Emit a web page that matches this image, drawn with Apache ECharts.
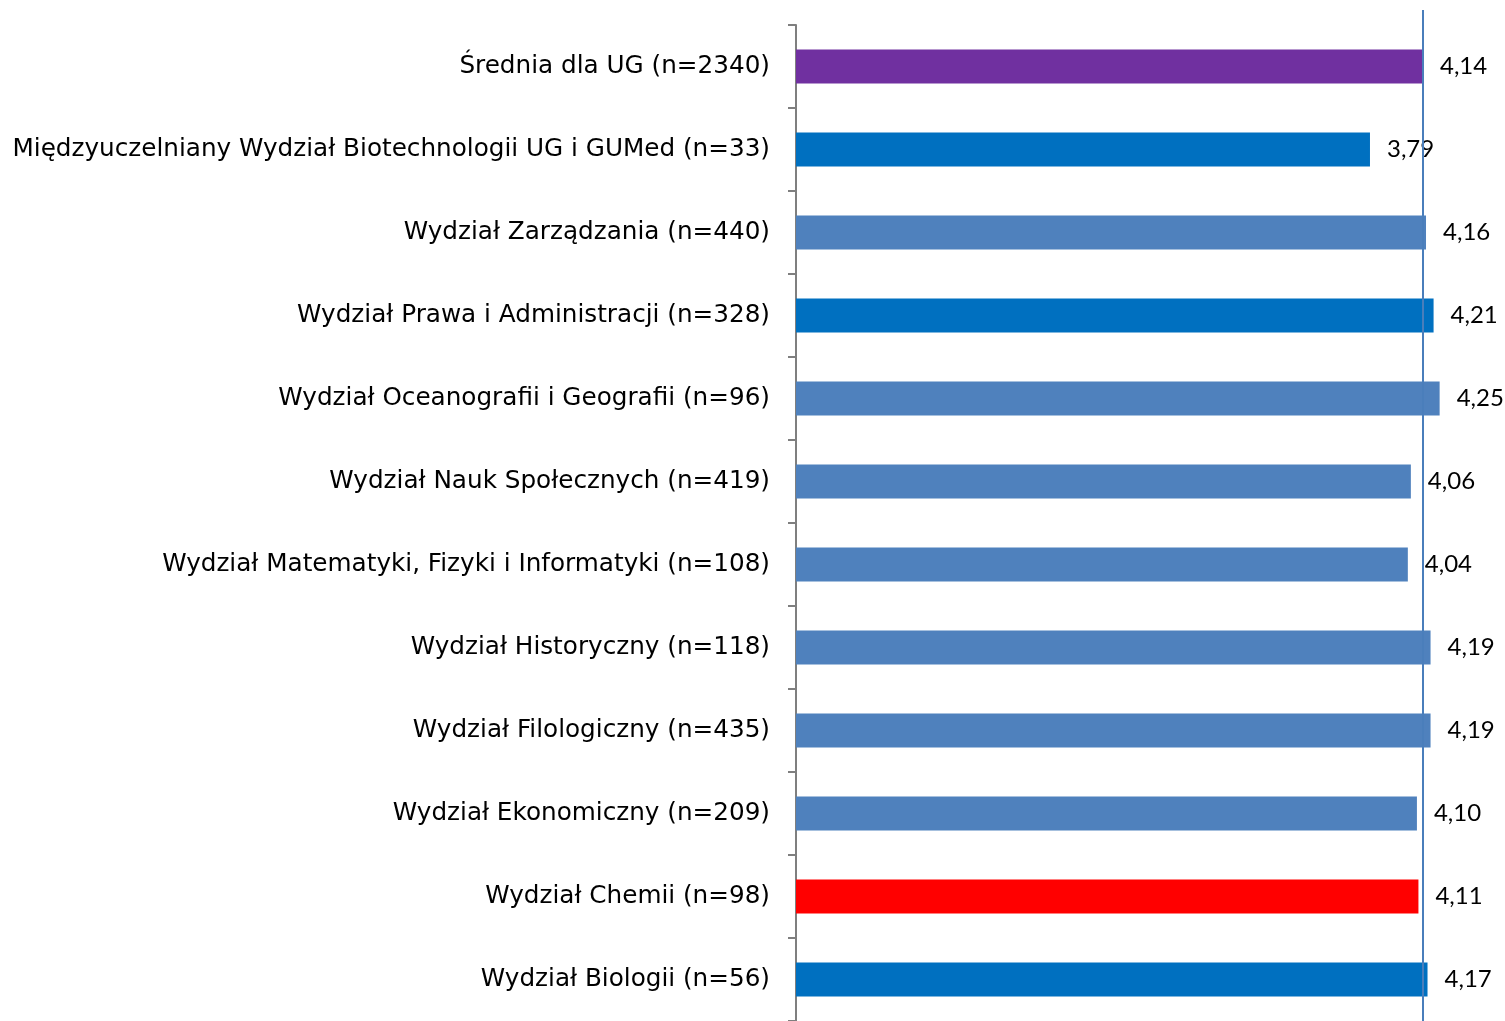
<!DOCTYPE html>
<html>
<head>
<meta charset="utf-8">
<script src="https://cdn.jsdelivr.net/npm/echarts@6/dist/echarts.min.js"></script>
<style>
html, body { margin: 0; padding: 0; background: #fff; }
#main { width: 1505px; height: 1021px; }
</style>
</head>
<body>
<div id="main"></div>
<script>
// kategorie (od góry)
var categories = [
    'Średnia dla UG (n=2340)',
    'Międzyuczelniany Wydział Biotechnologii UG i GUMed (n=33)',
    'Wydział Zarządzania (n=440)',
    'Wydział Prawa i Administracji (n=328)',
    'Wydział Oceanografii i Geografii (n=96)',
    'Wydział Nauk Społecznych (n=419)',
    'Wydział Matematyki, Fizyki i Informatyki (n=108)',
    'Wydział Historyczny (n=118)',
    'Wydział Filologiczny (n=435)',
    'Wydział Ekonomiczny (n=209)',
    'Wydział Chemii (n=98)',
    'Wydział Biologii (n=56)'
];
var values = [4.14, 3.79, 4.16, 4.21, 4.25, 4.06, 4.04, 4.19, 4.19, 4.10, 4.11, 4.17];
var barColors = ['#7030A0', '#0070C0', '#4F81BD', '#0070C0', '#4F81BD', '#4F81BD',
    '#4F81BD', '#4F81BD', '#4F81BD', '#4F81BD', '#FF0000', '#0070C0'];
var average = 4.14;

var chart = echarts.init(document.getElementById('main'));

var option = {
    animation: false,
    grid: [
        { left: 796, right: 27.5, top: 25, bottom: -4 },
        // osobna siatka tylko na linię średniej (wystaje ponad wykres)
        { left: 796, right: 27.5, top: 10, bottom: -4 }
    ],
    xAxis: [
        { gridIndex: 0, type: 'value', min: 0, max: 4.5, show: false },
        { gridIndex: 1, type: 'value', min: 0, max: 4.5, show: false }
    ],
    yAxis: [
        {
            gridIndex: 0,
            type: 'category',
            inverse: true,
            data: categories,
            axisLine: { show: true, lineStyle: { color: '#7F7F7F', width: 2 } },
            axisTick: { show: true, length: 8, alignWithLabel: false, lineStyle: { color: '#7F7F7F', width: 2 } },
            axisLabel: {
                margin: 26,
                color: '#000',
                fontSize: 24.7,
                fontFamily: 'DejaVu Sans',
                padding: [4, 0, 0, 0]
            }
        },
        { gridIndex: 1, type: 'category', data: [''], show: false }
    ],
    series: [
        {
            type: 'bar',
            xAxisIndex: 0,
            yAxisIndex: 0,
            barWidth: 34,
            data: values.map(function (v, i) {
                return { value: v, itemStyle: { color: barColors[i] } };
            }),
            label: {
                show: true,
                position: 'right',
                distance: 17,
                color: '#000',
                fontSize: 24,
                fontFamily: 'Lato',
                formatter: function (p) {
                    return p.value.toFixed(2).replace('.', ',');
                }
            }
        },
        {
            type: 'scatter',
            xAxisIndex: 1,
            yAxisIndex: 1,
            data: [],
            markLine: {
                silent: true,
                symbol: 'none',
                label: { show: false },
                lineStyle: { color: '#4A7EBB', width: 2, type: 'solid' },
                data: [{ xAxis: average }]
            }
        }
    ]
};

chart.setOption(option);
</script>
</body>
</html>
